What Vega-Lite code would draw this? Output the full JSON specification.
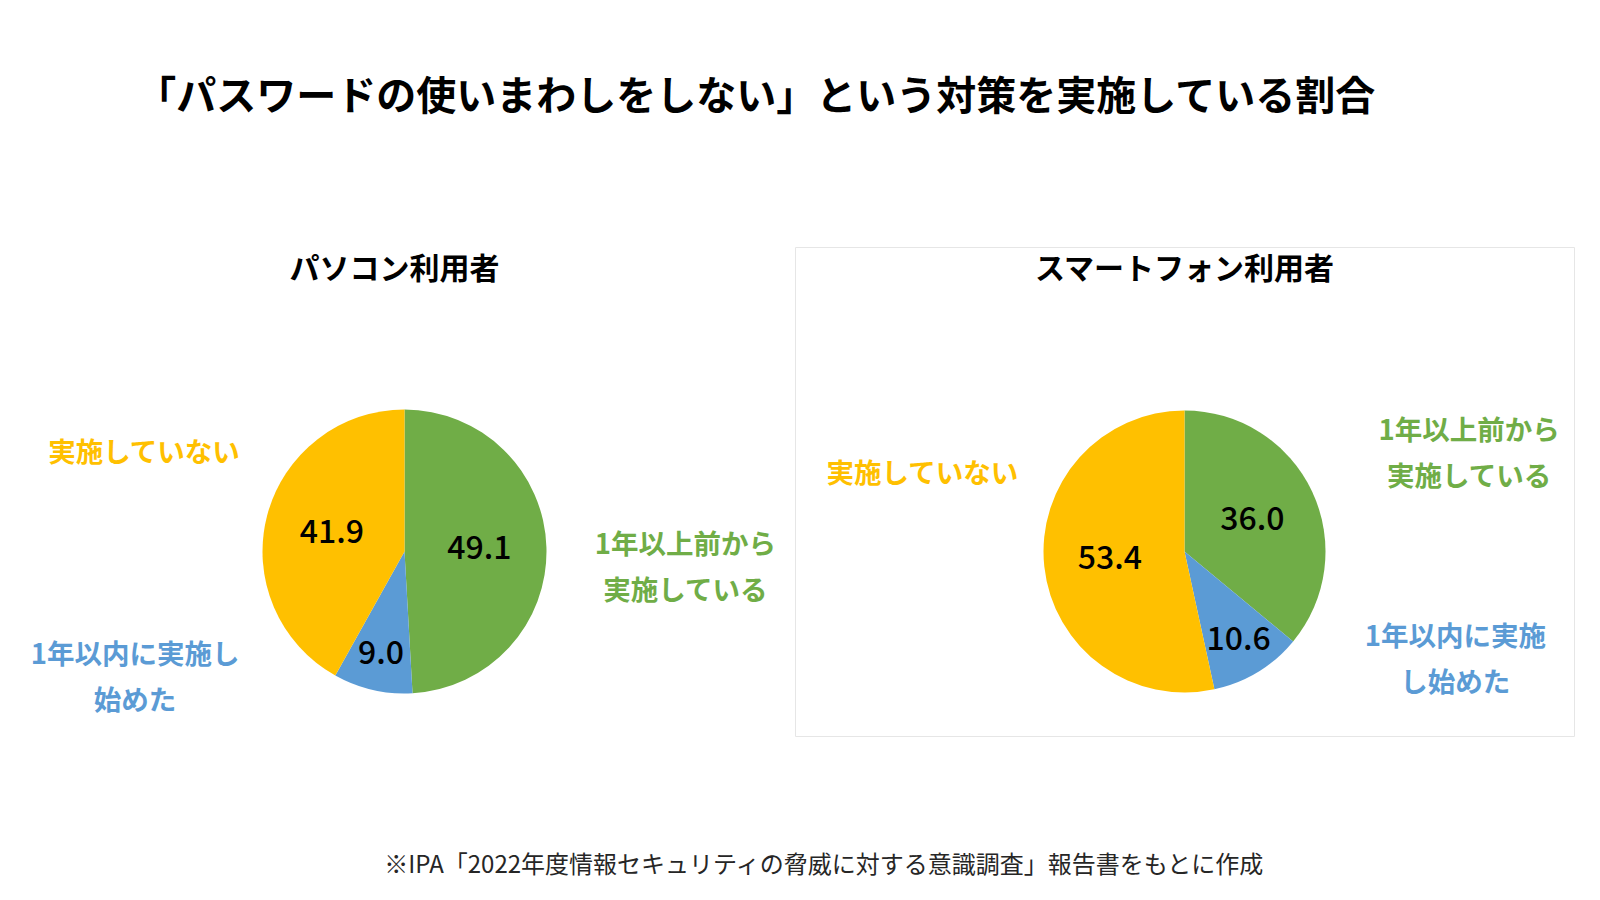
{
  "$schema": "https://vega.github.io/schema/vega-lite/v6.json",
  "background": "white",
  "padding": {"left": 15, "top": 77, "right": 0, "bottom": 0},
  "datasets": {
    "pc": [
      {"category": "1年以上前から実施している", "label": "1年以上前から\n実施している", "value": 49.1, "order": 1},
      {"category": "1年以内に実施し始めた", "label": "1年以内に実施し\n始めた", "value": 9.0, "order": 2},
      {"category": "実施していない", "label": "実施していない", "value": 41.9, "order": 3}
    ],
    "sp": [
      {"category": "1年以上前から実施している", "label": "1年以上前から\n実施している", "value": 36.0, "order": 1},
      {"category": "1年以内に実施し始めた", "label": "1年以内に実施\nし始めた", "value": 10.6, "order": 2},
      {"category": "実施していない", "label": "実施していない", "value": 53.4, "order": 3}
    ]
  },
  "title": {
    "text": "「パスワードの使いまわしをしない」という対策を実施している割合",
    "font": "Noto Sans CJK JP",
    "fontSize": 40,
    "fontWeight": "bold",
    "color": "#000000",
    "anchor": "middle",
    "dx": -39,
    "offset": 129
  },
  "vconcat": [
    {
      "title": {
        "text": "※IPA「2022年度情報セキュリティの脅威に対する意識調査」報告書をもとに作成",
        "orient": "bottom",
        "anchor": "middle",
        "font": "Noto Sans CJK JP",
        "fontSize": 24,
        "fontWeight": "normal",
        "color": "#262626",
        "dx": 29,
        "offset": 117
      },
      "spacing": 0,
      "hconcat": [
        {
          "width": 779,
          "height": 489,
          "view": {"stroke": null},
          "title": {"text": "パソコン利用者", "font": "Noto Sans CJK JP", "fontSize": 30, "fontWeight": "bold", "color": "#000000", "anchor": "middle", "dx": -10, "offset": -38},
          "data": {"name": "pc"},
          "encoding": {
            "theta": {"field": "value", "type": "quantitative", "stack": true},
            "order": {"field": "order", "type": "quantitative", "sort": "ascending"},
            "color": {
              "field": "category", "type": "nominal", "legend": null,
              "scale": {"domain": ["1年以上前から実施している", "1年以内に実施し始めた", "実施していない"], "range": ["#70AD47", "#5B9BD5", "#FFC000"]}
            }
          },
          "layer": [
            {"mark": {"type": "arc", "outerRadius": 142, "yOffset": 60}},
            {
              "mark": {"type": "text", "radius": 75, "yOffset": 60, "font": "Noto Sans CJK JP", "fontSize": 32, "fontWeight": 500, "align": "center", "baseline": "middle"},
              "encoding": {"text": {"condition": {"test": "datum.value >= 20", "field": "value", "type": "quantitative", "format": ".1f"}, "value": ""}, "color": {"value": "#000000"}}
            },
            {
              "mark": {"type": "text", "radius": 105, "yOffset": 60, "font": "Noto Sans CJK JP", "fontSize": 32, "fontWeight": 500, "align": "center", "baseline": "middle"},
              "encoding": {"text": {"condition": {"test": "datum.value < 20", "field": "value", "type": "quantitative", "format": ".1f"}, "value": ""}, "color": {"value": "#000000"}}
            },
            {
              "mark": {"type": "text", "radius": 140, "yOffset": 60, "dx": 141, "dy": -2, "font": "Noto Sans CJK JP", "fontSize": 27.5, "fontWeight": "bold", "lineBreak": "\n", "lineHeight": 46, "align": "center", "baseline": "middle"},
              "encoding": {"text": {"condition": {"test": "datum.order === 1", "field": "label"}, "value": ""}}
            },
            {
              "mark": {"type": "text", "radius": 140, "yOffset": 60, "dx": -238, "dy": -32, "font": "Noto Sans CJK JP", "fontSize": 27.5, "fontWeight": "bold", "lineBreak": "\n", "lineHeight": 46, "align": "center", "baseline": "middle"},
              "encoding": {"text": {"condition": {"test": "datum.order === 2", "field": "label"}, "value": ""}}
            },
            {
              "mark": {"type": "text", "radius": 140, "yOffset": 60, "dx": -125, "dy": -62, "font": "Noto Sans CJK JP", "fontSize": 27.5, "fontWeight": "bold", "lineBreak": "\n", "lineHeight": 46, "align": "center", "baseline": "middle"},
              "encoding": {"text": {"condition": {"test": "datum.order === 3", "field": "label"}, "value": ""}}
            }
          ]
        },
        {
          "width": 779,
          "height": 489,
          "view": {"stroke": "#e6e6e6"},
          "title": {"text": "スマートフォン利用者", "font": "Noto Sans CJK JP", "fontSize": 30, "fontWeight": "bold", "color": "#000000", "anchor": "middle", "offset": -38},
          "data": {"name": "sp"},
          "encoding": {
            "theta": {"field": "value", "type": "quantitative", "stack": true},
            "order": {"field": "order", "type": "quantitative", "sort": "ascending"},
            "color": {
              "field": "category", "type": "nominal", "legend": null,
              "scale": {"domain": ["1年以上前から実施している", "1年以内に実施し始めた", "実施していない"], "range": ["#70AD47", "#5B9BD5", "#FFC000"]}
            }
          },
          "layer": [
            {"mark": {"type": "arc", "outerRadius": 141, "yOffset": 60}},
            {
              "mark": {"type": "text", "radius": 75, "yOffset": 60, "font": "Noto Sans CJK JP", "fontSize": 32, "fontWeight": 500, "align": "center", "baseline": "middle"},
              "encoding": {"text": {"condition": {"test": "datum.value >= 20", "field": "value", "type": "quantitative", "format": ".1f"}, "value": ""}, "color": {"value": "#000000"}}
            },
            {
              "mark": {"type": "text", "radius": 104, "yOffset": 60, "font": "Noto Sans CJK JP", "fontSize": 32, "fontWeight": 500, "align": "center", "baseline": "middle"},
              "encoding": {"text": {"condition": {"test": "datum.value < 20", "field": "value", "type": "quantitative", "format": ".1f"}, "value": ""}, "color": {"value": "#000000"}}
            },
            {
              "mark": {"type": "text", "radius": 140, "yOffset": 60, "dx": 158, "dy": -60, "font": "Noto Sans CJK JP", "fontSize": 27.5, "fontWeight": "bold", "lineBreak": "\n", "lineHeight": 46, "align": "center", "baseline": "middle"},
              "encoding": {"text": {"condition": {"test": "datum.order === 1", "field": "label"}, "value": ""}}
            },
            {
              "mark": {"type": "text", "radius": 140, "yOffset": 60, "dx": 198, "dy": -33, "font": "Noto Sans CJK JP", "fontSize": 27.5, "fontWeight": "bold", "lineBreak": "\n", "lineHeight": 46, "align": "center", "baseline": "middle"},
              "encoding": {"text": {"condition": {"test": "datum.order === 2", "field": "label"}, "value": ""}}
            },
            {
              "mark": {"type": "text", "radius": 140, "yOffset": 60, "dx": -123, "dy": -91, "font": "Noto Sans CJK JP", "fontSize": 27.5, "fontWeight": "bold", "lineBreak": "\n", "lineHeight": 46, "align": "center", "baseline": "middle"},
              "encoding": {"text": {"condition": {"test": "datum.order === 3", "field": "label"}, "value": ""}}
            }
          ]
        }
      ]
    }
  ]
}
